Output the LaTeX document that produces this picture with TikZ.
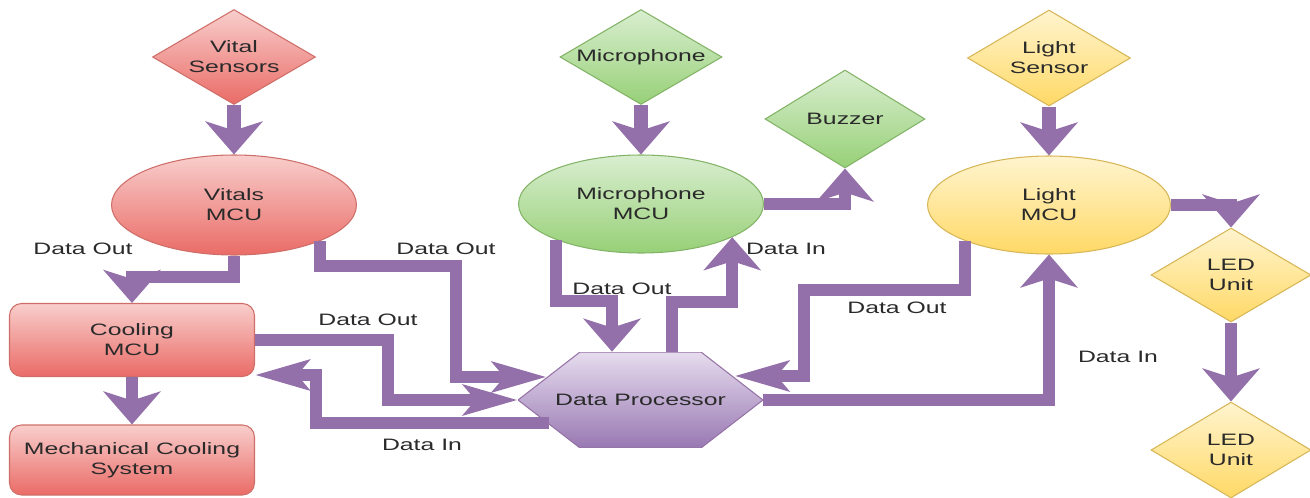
\documentclass[tikz,border=0pt]{standalone}
\usepackage{fontspec}
\newfontfamily\lab[FakeStretch=1.5]{Liberation Sans}
\usetikzlibrary{shapes.geometric,arrows.meta,calc}
\definecolor{arrc}{HTML}{9470AA}
\definecolor{txt}{HTML}{2A2A2A}
\definecolor{rA}{HTML}{F8CECC}
\definecolor{rB}{HTML}{EA6B66}
\definecolor{rC}{HTML}{CF6E69}
\definecolor{gA}{HTML}{D9EED0}
\definecolor{gB}{HTML}{97D077}
\definecolor{gC}{HTML}{82B366}
\definecolor{yA}{HTML}{FFF4CF}
\definecolor{yB}{HTML}{FFD966}
\definecolor{yC}{HTML}{D6B656}
\definecolor{pA}{HTML}{E6DCEE}
\definecolor{pB}{HTML}{9878B2}
\definecolor{pC}{HTML}{9673A6}
\begin{document}
\begin{tikzpicture}[x=0.02cm,y=-0.02cm,
  every node/.style={font=\lab\fontsize{9.4}{11.3}\selectfont, text=txt, align=center, inner sep=0pt},
  dia/.style={diamond, aspect=1.7, line width=0.6pt},
  ell/.style={ellipse, line width=0.6pt},
  rbox/.style={rectangle, rounded corners=0.24cm, line width=0.6pt, minimum width=4.9cm},
  redc/.style={top color=rA, bottom color=rB, draw=rC},
  greenc/.style={top color=gA, bottom color=gB, draw=gC},
  yellowc/.style={top color=yA, bottom color=yB, draw=yC},
  hexa/.style={rectangle, minimum width=4.9cm, minimum height=1.92cm,
    path picture={
      \shadedraw[top color=pA, bottom color=pB, draw=pC, line width=0.6pt]
        (path picture bounding box.west)
        -- ([xshift=1.24cm]path picture bounding box.north west)
        -- ([xshift=-1.24cm]path picture bounding box.north east)
        -- (path picture bounding box.east)
        -- ([xshift=-1.24cm]path picture bounding box.south east)
        -- ([xshift=1.24cm]path picture bounding box.south west)
        -- cycle;}},
  conn/.style={draw=arrc, line width=0.24cm},
  wide/.style={line width=0.28cm},
  headv/.style={-{Stealth[length=0.66cm,width=1.14cm,inset=0.18cm]}},
  headh/.style={-{Stealth[length=1.08cm,width=0.6cm,inset=0.24cm]}},
  lbl/.style={}
]
\useasboundingbox (0,0) rectangle (1310,497);

% nodes
\node[dia, redc, minimum width=3.26cm, minimum height=1.9cm] (vs) at (234,57) {Vital\\Sensors};
\node[ell, redc, minimum width=4.9cm, minimum height=2.0cm] (vmcu) at (234,205) {Vitals\\MCU};
\node[dia, greenc, minimum width=3.24cm, minimum height=1.9cm] (mic) at (641,57) {Microphone};
\node[dia, greenc, minimum width=3.2cm, minimum height=1.96cm] (buz) at (845,119) {Buzzer};
\node[ell, greenc, minimum width=4.9cm, minimum height=1.96cm] (mmcu) at (641,204) {Microphone\\MCU};
\node[dia, yellowc, minimum width=3.26cm, minimum height=1.92cm] (ls) at (1049,58) {Light\\Sensor};
\node[ell, yellowc, minimum width=4.86cm, minimum height=1.96cm] (lmcu) at (1049,205) {Light\\MCU};
\node[dia, yellowc, minimum width=3.2cm, minimum height=1.88cm] (led1) at (1231,275) {LED\\Unit};
\node[dia, yellowc, minimum width=3.2cm, minimum height=1.92cm] (led2) at (1231,450) {LED\\Unit};
\node[rbox, redc, minimum height=1.46cm] (cool) at (132,340) {Cooling\\MCU};
\node[rbox, redc, minimum height=1.4cm] (mech) at (132,460) {Mechanical Cooling\\System};
\node[hexa] (dp) at (640.5,400) {Data Processor};

\coordinate (dpUL) at ($(dp.center)+(-94,-23)$);
\coordinate (dpUR) at ($(dp.center)+(94,-24)$);
\coordinate (dpLL) at ($(dp.center)+(-92,23)$);
\coordinate (dpT1) at ($(dp.north)+(-28.5,0)$);
\coordinate (dpT2) at ($(dp.north)+(31,0)$);

% connectors
\draw[conn, wide, headv] (vs.south) -- (vmcu.north);
\draw[conn, wide, headv] (mic.south) -- (mmcu.north);
\draw[conn, wide, headv] (ls.south) -- (lmcu.north);
\draw[conn, headv] (vmcu.south) |- (cool.north |- 0,277) -- (cool.north);
\draw[conn, headv] (cool.south) -- (mech.north);
\draw[conn, headh] (vmcu.-23) |- (456,266) |- (dpUL);
\draw[conn, headh] (cool.east) -| (388,400) -- (dp.west);
\draw[conn, headh] (dpLL) -| (316,375) -- (cool.east |- 0,375);
\draw[conn, headv] (mmcu.-157) |- (dpT1 |- 0,301) -- (dpT1);
\draw[conn, headv] (dpT2) |- (mmcu.-20.6 |- 0,302) -- (mmcu.-20.6);
\draw[conn, headv] (mmcu.east) -| (buz.south);
\draw[conn, headh] (lmcu.-157) |- (804,290) |- (dpUR);
\draw[conn, headv] (dp.east) -| (lmcu.south);
\draw[conn, headv] (lmcu.east) -| (led1.north);
\draw[conn, headv] (led1.south) -- (led2.north);

% labels
\node[lbl] (l1) at (83,249) {Data Out};
\node[lbl] (l2) at (446,249) {Data Out};
\node[lbl] (l3) at (368,320) {Data Out};
\node[lbl] (l4) at (422,445) {Data In};
\node[lbl] (l5) at (622,289) {Data Out};
\node[lbl] (l6) at (786,249) {Data In};
\node[lbl] (l7) at (897,308) {Data Out};
\node[lbl] (l8) at (1118,357) {Data In};
\end{tikzpicture}
\end{document}
